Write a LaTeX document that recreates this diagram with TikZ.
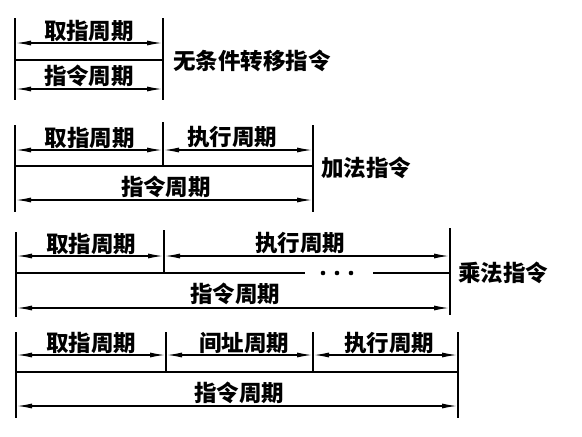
\documentclass[tikz,border=0pt]{standalone}
\usepackage{fontspec}
\newfontfamily\cjk{Noto Sans CJK SC}
\usetikzlibrary{arrows.meta}
\tikzset{
  bar/.style={line width=2pt},
  base/.style={line width=2.6pt},
  cyc/.style={line width=1.6pt,{Latex[length=16pt,width=5pt]}-{Latex[length=16pt,width=5pt]}},
  lbl/.style={font=\fontsize{22.5}{26}\selectfont\cjk\bfseries,inner sep=0pt},
  ins/.style={lbl,anchor=west}
}
\begin{document}
\begin{tikzpicture}[x=1pt,y=-1pt]
		\useasboundingbox (0,0) rectangle (582,437);
		% 无条件转移指令
		\coordinate (u0) at (15,43); \coordinate (u1) at (163,43);
		\coordinate (u2) at (15,89); \coordinate (u3) at (163,89);
		\draw [bar] (15,18) -- (15,100) (163,18) -- (163,100);
		\draw [base] (15,60) -- (163,60);
		\draw [cyc] (u0) -- (u1);
		\draw [cyc] (u2) -- (u3);
		\node [lbl] (u-qz) at (89,31) {取指周期};
		\node [lbl] (u-zl) at (89,76) {指令周期};
		\node [ins] (u-name) at (173,61) {无条件转移指令};
		% 加法指令
		\coordinate (a0) at (15,150); \coordinate (a1) at (163,150); \coordinate (a2) at (313,150);
		\coordinate (a3) at (15,200); \coordinate (a4) at (313,200);
		\draw [bar] (15,125) -- (15,212) (163,122) -- (163,166) (313,125) -- (313,212);
		\draw [base] (15,166) -- (313,166);
		\draw [cyc] (a0) -- (a1);
		\draw [cyc] (a1) -- (a2);
		\draw [cyc] (a3) -- (a4);
		\node [lbl] (a-qz) at (90,138) {取指周期};
		\node [lbl] (a-zx) at (232,137) {执行周期};
		\node [lbl] (a-zl) at (166,187) {指令周期};
		\node [ins] (a-name) at (321,168) {加法指令};
		% 乘法指令
		\coordinate (m0) at (16,256); \coordinate (m1) at (164,256); \coordinate (m2) at (450,256);
		\coordinate (m3) at (16,308); \coordinate (m4) at (450,308);
		\draw [bar] (16,232) -- (16,317) (164,230) -- (164,273) (450,228) -- (450,315);
		\draw [base] (16,273) -- (305,273) (373,273) -- (450,273);
		\fill (323,273) circle [radius=2.3] (337,273) circle [radius=2.3] (351,273) circle [radius=2.3];
		\draw [cyc] (m0) -- (m1);
		\draw [cyc] (m1) -- (m2);
		\draw [cyc] (m3) -- (m4);
		\node [lbl] (m-qz) at (91,244) {取指周期};
		\node [lbl] (m-zx) at (300,243) {执行周期};
		\node [lbl] (m-zl) at (235,294) {指令周期};
		\node [ins] (m-name) at (458,273) {乘法指令};
		% 间址
		\coordinate (j0) at (16,355); \coordinate (j1) at (166,355); \coordinate (j2) at (313,355);
		\coordinate (j3) at (458,355); \coordinate (j4) at (16,406); \coordinate (j5) at (458,406);
		\draw [bar] (16,332) -- (16,418) (166,332) -- (166,372) (313,332) -- (313,372) (458,332) -- (458,418);
		\draw [base] (16,372) -- (458,372);
		\draw [cyc] (j0) -- (j1);
		\draw [cyc] (j1) -- (j2);
		\draw [cyc] (j2) -- (j3);
		\draw [cyc] (j4) -- (j5);
		\node [lbl] (j-qz) at (91,343) {取指周期};
		\node [lbl] (j-jz) at (244,343) {间址周期};
		\node [lbl] (j-zx) at (389,343) {执行周期};
		\node [lbl] (j-zl) at (239,393) {指令周期};
	\end{tikzpicture}
\end{document}
